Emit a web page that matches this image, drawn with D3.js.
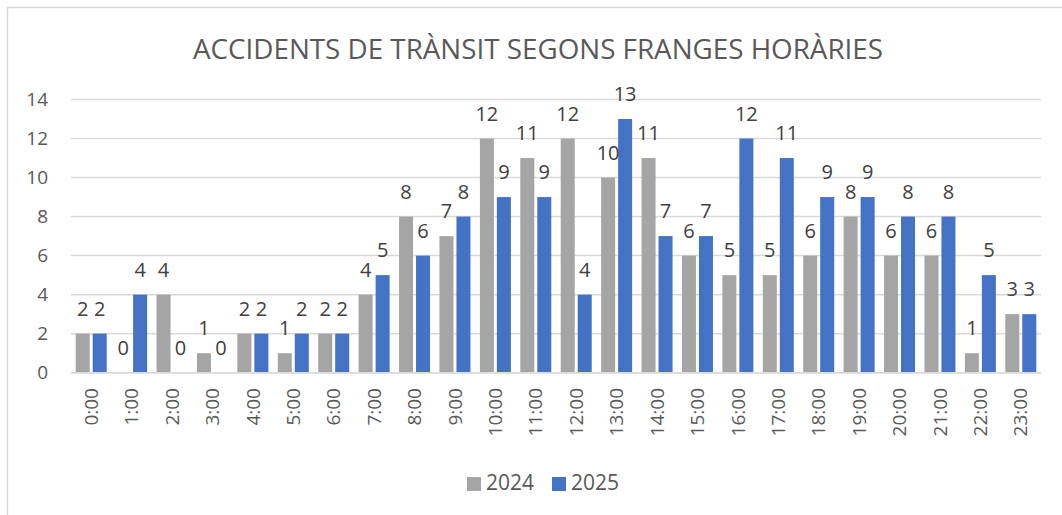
<!DOCTYPE html>
<html>
<head>
<meta charset="utf-8">
<script src="https://cdn.jsdelivr.net/npm/d3@7"></script>
<style>
  body { margin: 0; background: #fff; }
  text { font-family: "Open Sans", "Liberation Sans", sans-serif; }
</style>
</head>
<body>
<div id="chart"></div>
<script>
var hours = ["0:00","1:00","2:00","3:00","4:00","5:00","6:00","7:00","8:00","9:00","10:00","11:00",
             "12:00","13:00","14:00","15:00","16:00","17:00","18:00","19:00","20:00","21:00","22:00","23:00"];
var series = ["2024", "2025"];
var values2024 = [2,0,4,1,2,1,2,4,8,7,12,11,12,10,11,6,5,5,6,8,6,6,1,3];
var values2025 = [2,4,0,0,2,2,2,5,6,8,9,9,4,13,7,7,12,11,9,9,8,8,5,3];
var yTicks = [0,2,4,6,8,10,12,14];
var colors = ["#a5a5a5", "#4472c4"];

var width = 1062, height = 515;
var plotLeft = 71, plotRight = 1041, plotTop = 99.5, plotBottom = 372.7;

var svg = d3.select("#chart").append("svg")
    .attr("width", width)
    .attr("height", height);

// chart border
svg.append("rect")
  .attr("x", 7.5).attr("y", 7.5)
  .attr("width", width + 20).attr("height", height + 20)
  .attr("fill", "none")
  .attr("stroke", "#d9d9d9")
  .attr("stroke-width", 1.5);

svg.append("text")
  .attr("x", 538).attr("y", 59)
  .attr("text-anchor", "middle")
  .attr("fill", "#595959")
  .attr("font-size", 28)
  .attr("textLength", 690)
  .attr("lengthAdjust", "spacingAndGlyphs")
  .text("ACCIDENTS DE TRÀNSIT SEGONS FRANGES HORÀRIES");

var x0 = d3.scaleBand().domain(hours).range([plotLeft, plotRight]);
var bw = x0.bandwidth();
var x1 = d3.scaleBand().domain(series)
    .range([(bw - 31) / 2, (bw + 31) / 2])
    .paddingInner(0.176);
var y = d3.scaleLinear().domain([0, 14]).range([plotBottom, plotTop]);

// gridlines
svg.append("g").selectAll("line")
  .data(yTicks)
  .enter().append("line")
  .attr("x1", plotLeft).attr("x2", plotRight)
  .attr("y1", function(d) { return y(d); })
  .attr("y2", function(d) { return y(d); })
  .attr("stroke", "#d9d9d9")
  .attr("stroke-width", 1.5);

// y labels
svg.append("g").selectAll("text")
  .data(yTicks)
  .enter().append("text")
  .attr("x", 48)
  .attr("y", function(d) { return y(d); })
  .attr("dy", "0.35em")
  .attr("text-anchor", "end")
  .attr("fill", "#595959")
  .attr("font-size", 19)
  .text(function(d) { return d; });

var rows = hours.map(function(h, i) {
  return { hour: h, vals: [
    { s: "2024", v: values2024[i], c: colors[0] },
    { s: "2025", v: values2025[i], c: colors[1] }
  ]};
});

var groups = svg.append("g").selectAll("g")
  .data(rows)
  .enter().append("g")
  .attr("transform", function(d) { return "translate(" + x0(d.hour) + ",0)"; });

groups.selectAll("rect")
  .data(function(d) { return d.vals; })
  .enter().append("rect")
  .attr("x", function(d) { return x1(d.s); })
  .attr("width", x1.bandwidth())
  .attr("y", function(d) { return y(d.v); })
  .attr("height", function(d) { return y(0) - y(d.v); })
  .attr("fill", function(d) { return d.c; });

groups.selectAll("text")
  .data(function(d) { return d.vals; })
  .enter().append("text")
  .attr("x", function(d) { return x1(d.s) + x1.bandwidth() / 2; })
  .attr("y", function(d) { return y(d.v) - 18; })
  .attr("text-anchor", "middle")
  .attr("fill", "#404040")
  .attr("font-size", 20)
  .text(function(d) { return d.v; });

// x axis line
svg.append("line")
  .attr("x1", plotLeft).attr("x2", plotRight)
  .attr("y1", y(0)).attr("y2", y(0))
  .attr("stroke", "#d9d9d9")
  .attr("stroke-width", 1.5);

// x labels, rotated
svg.append("g").selectAll("text")
  .data(hours)
  .enter().append("text")
  .attr("transform", function(d) {
    return "translate(" + (x0(d) + bw / 2) + ",388) rotate(-90)";
  })
  .attr("text-anchor", "end")
  .attr("dy", "0.35em")
  .attr("fill", "#595959")
  .attr("font-size", 19)
  .text(function(d) { return d; });

// legend
var legendX = [467, 552];
var legend = svg.append("g").selectAll("g")
  .data(series)
  .enter().append("g")
  .attr("transform", function(d, i) { return "translate(" + legendX[i] + ",477)"; });

legend.append("rect")
  .attr("width", 14).attr("height", 14)
  .attr("fill", function(d, i) { return colors[i]; });

legend.append("text")
  .attr("x", 19).attr("y", 13)
  .attr("fill", "#595959")
  .attr("font-size", 22)
  .attr("textLength", 48)
  .attr("lengthAdjust", "spacingAndGlyphs")
  .text(function(d) { return d; });
</script>
</body>
</html>
